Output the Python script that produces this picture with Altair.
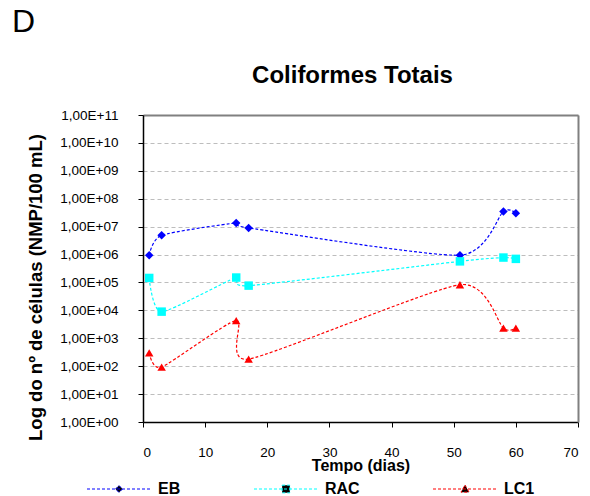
import altair as alt
import pandas as pd

# ---- data ----
series_names = ["EB", "RAC", "LC1"]
days = [1, 3, 15, 17, 51, 58, 60]
eb = [9.5e5, 4.9e6, 1.35e7, 9.0e6, 9.5e5, 3.5e7, 3.0e7]
rac = [1.45e5, 9.0e3, 1.5e5, 7.7e4, 5.7e5, 7.8e5, 7.0e5]
lc1 = [3.0e2, 9.3e1, 4.3e3, 1.8e2, 8.3e4, 2.3e3, 2.3e3]
y_tick_values = [1e0, 1e1, 1e2, 1e3, 1e4, 1e5, 1e6, 1e7, 1e8, 1e9, 1e10, 1e11]
x_tick_values = [0, 10, 20, 30, 40, 50, 60, 70]
colors = ["#0000ff", "#00ffff", "#ff0000"]
shapes = ["diamond", "square", "triangle-up"]
# legend symbols: dashed line segment with the marker in the middle
legend_shapes = [
    "M-9.14,0L9.14,0M0,-1L1,0L0,1L-1,0Z",
    "M-9.14,0L9.14,0M-1.1,-1.1L1.1,-1.1L1.1,1.1L-1.1,1.1Z",
    "M-9.14,0L9.14,0M0,-1.15L1.15,0.9L-1.15,0.9Z",
]
chart_title = ["Coliformes Totais"]
panel_label = ["D"]

rows = []
for name, vals in zip(series_names, [eb, rac, lc1]):
    for d, v in zip(days, vals):
        rows.append({"serie": name, "dia": d, "valor": v})
df = pd.DataFrame(rows)

FONT = "Liberation Sans"

xscale = alt.Scale(domain=[0, 70], nice=False, zero=False)
yscale = alt.Scale(type="log", domain=[1, 1e11], nice=False)
cscale = alt.Scale(domain=series_names, range=colors)
sscale = alt.Scale(domain=series_names, range=shapes)
lscale = alt.Scale(domain=series_names, range=legend_shapes)

label_expr = ("'1,00E+' + (datum.value < 1e10 ? '0' : '') + "
              "format(log(datum.value) / LN10, '.0f')")

legend = alt.Legend(
    title=None,
    orient="none",
    legendX=-32,
    legendY=366,
    direction="horizontal",
    columns=3,
    gridAlign="none",
    columnPadding=71,
    padding=0,
    symbolSize=49,
    symbolStrokeWidth=1,
    symbolDash=[3, 2],
    symbolOpacity=1,
    labelFont=FONT,
    labelFontSize=16,
    labelFontWeight="bold",
    labelColor="black",
    labelOffset=31,
)

base = alt.Chart(df)

lines = base.mark_line(
    interpolate="cardinal", tension=0.35, strokeDash=[3, 2], strokeWidth=1.2
).encode(
    x=alt.X(
        "dia:Q",
        scale=xscale,
        axis=alt.Axis(
            values=x_tick_values,
            title="Tempo (dias)",
            titleFont=FONT,
            titleFontSize=16,
            titleFontWeight="bold",
            titleColor="black",
            titleY=48,
            titleBaseline="alphabetic",
            labelFont=FONT,
            labelFontSize=13.5,
            labelColor="black",
            labelPadding=18,
            tickSize=5,
            tickColor="black",
            domainColor="black",
            domainWidth=1.5,
            grid=False,
            orient="bottom",
        ),
    ),
    y=alt.Y(
        "valor:Q",
        scale=yscale,
        axis=alt.Axis(
            values=y_tick_values,
            labelExpr=label_expr,
            title="Log do nº de células (NMP/100 mL)",
            titleFont=FONT,
            titleFontSize=18.5,
            titleFontWeight="bold",
            titleColor="black",
            titleX=-108,
            titleY=172,
            titleBaseline="middle",
            titleAlign="center",
            labelFont=FONT,
            labelFontSize=13.5,
            labelColor="black",
            labelPadding=20,
            tickSize=5,
            tickColor="black",
            domainColor="black",
            domainWidth=1.5,
            grid=True,
            gridColor="#bdbdbd",
            gridDash=[4, 3],
            gridWidth=1,
            orient="left",
        ),
    ),
    color=alt.Color("serie:N", scale=cscale, legend=None),
    order=alt.Order("dia:Q"),
)

points = base.mark_point(filled=True, size=72, opacity=1).encode(
    x=alt.X(
        "dia:Q",
        scale=xscale,
        axis=alt.Axis(orient="top", labels=False, ticks=False, grid=False,
                      title=None, domainColor="#808080", domainWidth=2),
    ),
    y=alt.Y(
        "valor:Q",
        scale=yscale,
        axis=alt.Axis(orient="right", labels=False, ticks=False, grid=False,
                      title=None, domainColor="#808080", domainWidth=2),
    ),
    color=alt.Color("serie:N", scale=cscale, legend=None),
    shape=alt.Shape("serie:N", scale=sscale, legend=None),
)

# legend-only layer (no rows drawn, entries come from the scale domain)
legend_layer = base.transform_filter("false").mark_point(
    filled=True, opacity=1, stroke={"expr": "scale('color', datum.value)"}
).encode(
    x=alt.X("dia:Q", scale=xscale, axis=None),
    y=alt.Y("valor:Q", scale=yscale, axis=None),
    color=alt.Color("serie:N", scale=cscale, legend=legend),
    shape=alt.Shape("serie:N", scale=lscale, legend=legend),
)

title_layer = alt.Chart(pd.DataFrame({"t": chart_title})).mark_text(
    font=FONT, fontSize=24, fontWeight="bold", align="center",
    baseline="alphabetic", color="black"
).encode(text="t:N", x=alt.value(209.5), y=alt.value(-32))

panel = alt.Chart(pd.DataFrame({"t": panel_label})).mark_text(
    font=FONT, fontSize=32, align="left", baseline="alphabetic", color="black"
).encode(text="t:N", x=alt.value(-131), y=alt.value(-83))

chart = (
    alt.layer(lines, points, legend_layer, title_layer, panel)
    .resolve_axis(x="independent", y="independent")
    .resolve_scale(shape="independent")
    .properties(
        width=435,
        height=307,
        autosize=alt.AutoSizeParams(type="none"),
        padding={"left": 135, "top": 107, "right": 4, "bottom": 76},
    )
    .configure_view(stroke=None)
    .configure(background="white")
)

chart.save("out.html", embed_options={"renderer": "svg", "actions": False})
